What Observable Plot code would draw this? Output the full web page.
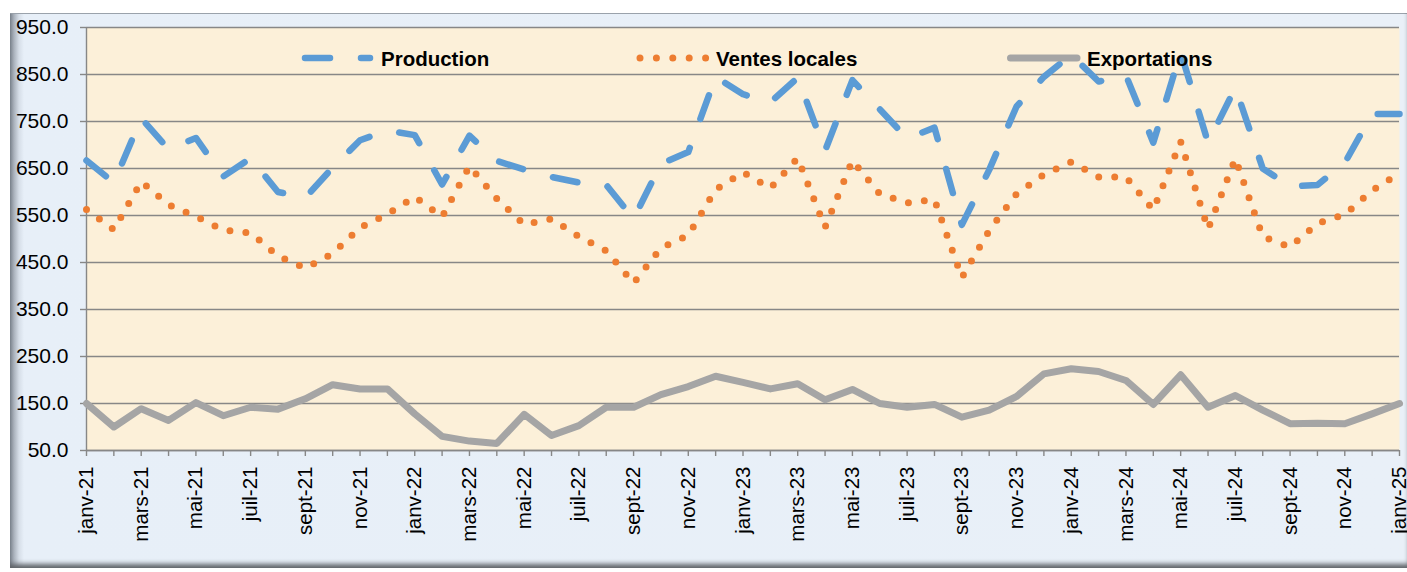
<!DOCTYPE html>
<html>
<head>
<meta charset="utf-8">
<script src="https://cdn.jsdelivr.net/npm/d3@7"></script>
<script src="https://cdn.jsdelivr.net/npm/@observablehq/plot@0.6"></script>
<style>
  html, body { margin: 0; padding: 0; background: #ffffff; }
  body { width: 1407px; height: 572px; position: relative; overflow: hidden;
         font-family: "Liberation Sans", Arial, sans-serif; }
  #frame { position: absolute; left: 10px; top: 13px; width: 1397px; height: 555px;
           background: linear-gradient(to right, #7f8792 0px, #aab2bc 4px, #d6dee8 9px, #e7eff8 14px, #e9f0f8 100%);
           box-shadow: inset 0 -6px 5px -2px #5f6368, inset 0 1px 0 #9aa2ab; }
  #chart { position: absolute; left: 0; top: 0; }
  .leg { position: absolute; font-weight: bold; font-size: 20.5px; line-height: 24px; color: #000; white-space: nowrap; }
  .sw { position: absolute; overflow: visible; }
</style>
</head>
<body>
<div id="frame"><div id="chart"></div></div>
<script>
// ---- data ----
const months = [
  "janv-21","févr-21","mars-21","avr-21","mai-21","juin-21","juil-21","août-21","sept-21","oct-21","nov-21","déc-21",
  "janv-22","févr-22","mars-22","avr-22","mai-22","juin-22","juil-22","août-22","sept-22","oct-22","nov-22","déc-22",
  "janv-23","févr-23","mars-23","avr-23","mai-23","juin-23","juil-23","août-23","sept-23","oct-23","nov-23","déc-23",
  "janv-24","févr-24","mars-24","avr-24","mai-24","juin-24","juil-24","août-24","sept-24","oct-24","nov-24","déc-24",
  "janv-25"
];
const production = [667, 620, 757, 691, 715, 633, 672, 600, 588, 652, 710, 731,
  721, 616, 720, 666, 648, 632, 620, 615, 543, 660, 685, 845,
  808, 791, 843, 688, 838, 776, 714, 737, 530, 647, 782, 845,
  892, 835, 848, 705, 898, 705, 822, 650, 612, 615, 662, 766,
  766];
const ventesLocales = [563, 520, 622, 573, 548, 519, 513, 464, 438, 469, 524, 553,
  590, 547, 655, 586, 531, 543, 505, 475, 406, 481, 508, 605,
  642, 608, 672, 525, 667, 596, 577, 584, 418, 518, 596, 637,
  664, 632, 632, 562, 707, 521, 671, 505, 483, 533, 552, 603,
  640];
const exportations = [150, 100, 139, 114, 152, 124, 142, 138, 160, 190, 181, 181,
  128, 80, 70, 65, 127, 82, 103, 142, 142, 169, 186, 208,
  195, 181, 192, 158, 180, 150, 142, 148, 121, 136, 165, 213,
  224, 218, 199, 148, 211, 142, 167, 136, 107, 108, 107, 128,
  150];
const yTicks = [50, 150, 250, 350, 450, 550, 650, 750, 850, 950];
const labelledMonths = months.filter((m, i) => i % 2 === 0);
const seriesNames = ["Production", "Ventes locales", "Exportations"];

// ---- table ----
const rows = months.map((m, i) => ({m, p: production[i], v: ventesLocales[i], e: exportations[i]}));

const gridColor = "#878787";
const chart = Plot.plot({
  width: 1397,
  height: 555,
  marginLeft: 76,
  marginTop: 14,
  marginRight: 8,
  marginBottom: 118,
  style: {background: "transparent", fontFamily: "'Liberation Sans', Arial, sans-serif", color: "#000", overflow: "visible"},
  x: {type: "point", domain: months, padding: 0, round: false},
  y: {domain: [50, 950]},
  marks: [
    Plot.frame({fill: "#fcf0d9", stroke: null}),
    Plot.gridY(yTicks, {stroke: gridColor, strokeOpacity: 1, strokeWidth: 1.4}),
    Plot.axisY(yTicks, {tickSize: 6, tickPadding: 12, tickFormat: d3.format(".1f"), fontSize: 21,
      stroke: gridColor, strokeOpacity: 1, strokeWidth: 1.4, fill: "#000", label: null}),
    Plot.ruleX([months[0]], {stroke: gridColor, strokeWidth: 1.4}),
    Plot.ruleY([50], {stroke: gridColor, strokeWidth: 1.4}),
    Plot.axisX(months, {tickSize: 6, tickFormat: () => "", stroke: gridColor, strokeOpacity: 1, strokeWidth: 1.4, label: null}),
    Plot.axisX(labelledMonths, {tickSize: 0, tickPadding: 16, tickRotate: -90, fontSize: 20.5, fill: "#000", label: null}),
    Plot.line(rows, {x: "m", y: "p", stroke: "#5b9bd5", strokeWidth: 6.5, strokeLinecap: "round",
      strokeLinejoin: "round", strokeDasharray: "25,31"}),
    Plot.line(rows, {x: "m", y: "v", stroke: "#ed7d31", strokeWidth: 7, strokeLinecap: "round",
      strokeLinejoin: "round", strokeDasharray: "0,16"}),
    Plot.line(rows, {x: "m", y: "e", stroke: "#a5a5a5", strokeWidth: 7, strokeLinecap: "round",
      strokeLinejoin: "round"})
  ]
});
document.getElementById("chart").appendChild(chart);

// ---- legend (HTML overlay) ----
const legendItems = [
  {name: seriesNames[0], swLeft: 298, swWidth: 80, x1: 7, x2: 72, stroke: "#5b9bd5", w: 6.5, dash: "25,31", textLeft: 381},
  {name: seriesNames[1], swLeft: 634, swWidth: 80, x1: 6, x2: 72, stroke: "#ed7d31", w: 7, dash: "0,16.4", textLeft: 716},
  {name: seriesNames[2], swLeft: 1003, swWidth: 80, x1: 7.5, x2: 74, stroke: "#a5a5a5", w: 7, dash: null, textLeft: 1087}
];
for (const it of legendItems) {
  const ns = "http://www.w3.org/2000/svg";
  const svg = document.createElementNS(ns, "svg");
  svg.setAttribute("class", "sw");
  svg.setAttribute("width", it.swWidth);
  svg.setAttribute("height", 16);
  svg.style.left = it.swLeft + "px";
  svg.style.top = "50px";
  const ln = document.createElementNS(ns, "line");
  ln.setAttribute("x1", it.x1); ln.setAttribute("x2", it.x2);
  ln.setAttribute("y1", 8); ln.setAttribute("y2", 8);
  ln.setAttribute("stroke", it.stroke);
  ln.setAttribute("stroke-width", it.w);
  ln.setAttribute("stroke-linecap", "round");
  if (it.dash) ln.setAttribute("stroke-dasharray", it.dash);
  svg.appendChild(ln);
  document.body.appendChild(svg);
  const t = document.createElement("div");
  t.className = "leg";
  t.style.left = it.textLeft + "px";
  t.style.top = "47px";
  t.textContent = it.name;
  document.body.appendChild(t);
}
</script>
</body>
</html>
